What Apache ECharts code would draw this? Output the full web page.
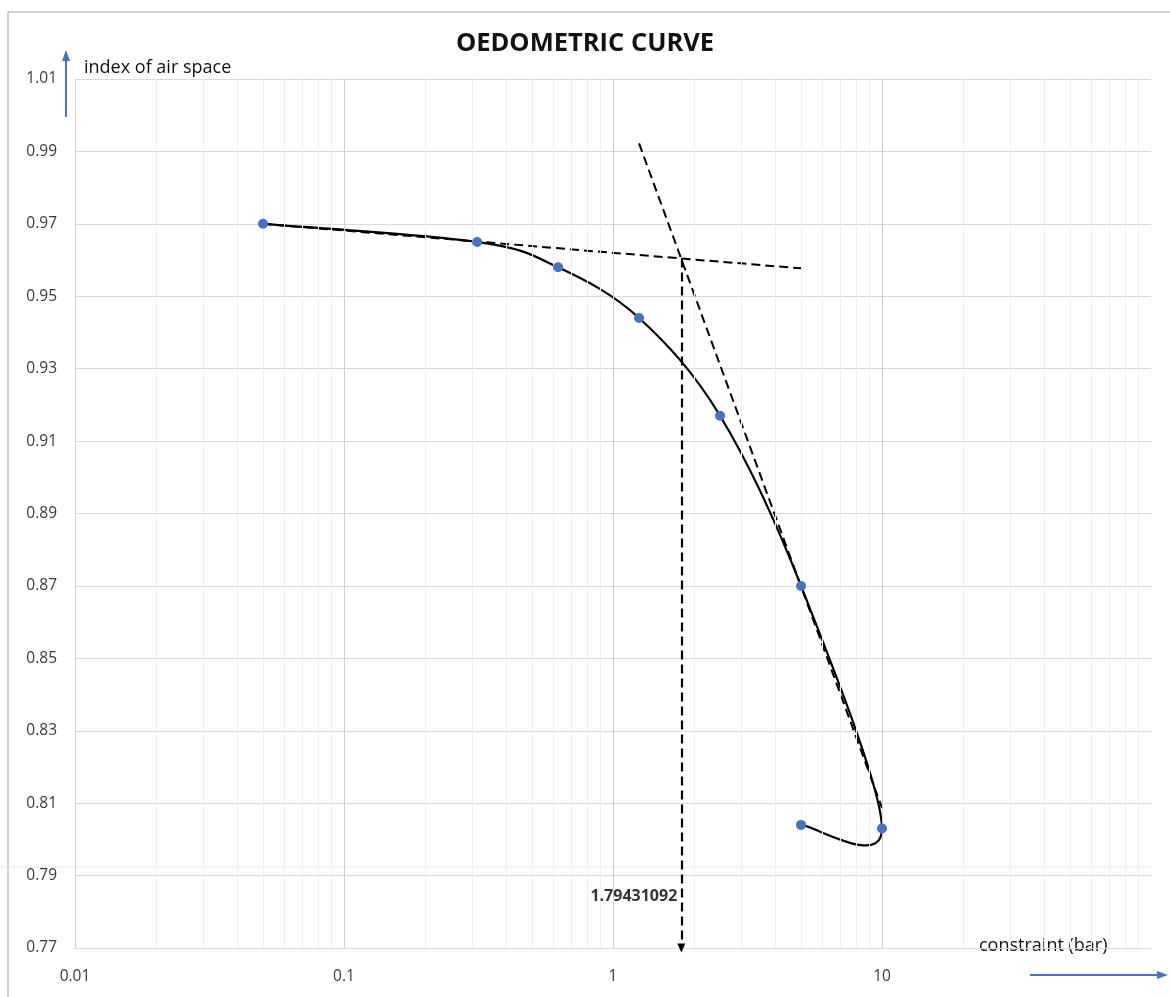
<!DOCTYPE html>
<html>
<head>
<meta charset="utf-8">
<title>Oedometric curve</title>
<script src="https://cdn.jsdelivr.net/npm/echarts@6/dist/echarts.min.js"></script>
<style>
  html, body { margin: 0; padding: 0; background: #fff; }
  #oedo_chart { width: 1170px; height: 997px; }
</style>
</head>
<body>
<div id="oedo_chart"></div>
<script>
// essai oedometrique : contrainte (bar) / indice des vides
var stress = [0.05, 0.3125, 0.625, 1.25, 2.5, 5, 10, 5];
var voidIndex = [0.970, 0.965, 0.958, 0.944, 0.917, 0.870, 0.803, 0.804];

// tangentes (pointilles)
var tangentFlat = [[0.05, 0.970], [5, 0.9577]];
var tangentSteep = [[1.25, 0.9922], [10, 0.8087]];

// pression de preconsolidation
var preconX = 1.79431092;
var preconY = 0.9604;
var preconLabelY = 0.7842;

// grille
var decades = [0.01, 0.1, 1, 10];
var minorX = [0.02, 0.03, 0.04, 0.05, 0.06, 0.07, 0.08, 0.09,
              0.2, 0.3, 0.4, 0.5, 0.6, 0.7, 0.8, 0.9,
              2, 3, 4, 5, 6, 7, 8, 9,
              20, 30, 40, 50, 60, 70, 80, 90];

var FONT = '"Open Sans", "Liberation Sans", sans-serif';
var BLUE = '#4472C4';

var chart = echarts.init(document.getElementById('oedo_chart'));

function vLines(list) {
    var out = [];
    for (var i = 0; i < list.length; i++) {
        out.push({ xAxis: list[i] });
    }
    return out;
}

var mainCurve = [];
for (var i = 0; i < stress.length; i++) {
    mainCurve.push([stress[i], voidIndex[i]]);
}

/* courbe lissee facon Excel : un segment de Bezier par paire de points */
function renderSmooth(params, api) {
    var i = params.dataIndex;
    var n = mainCurve.length;
    if (i >= n - 1) {
        return { type: 'group', children: [] };
    }
    var pt = function (k) {
        k = Math.max(0, Math.min(n - 1, k));
        return api.coord(mainCurve[k]);
    };
    var p0 = pt(i - 1), p1 = pt(i), p2 = pt(i + 1), p3 = pt(i + 2);
    return {
        type: 'bezierCurve',
        shape: {
            x1: p1[0], y1: p1[1],
            cpx1: p1[0] + (p2[0] - p0[0]) / 6,
            cpy1: p1[1] + (p2[1] - p0[1]) / 6,
            cpx2: p2[0] - (p3[0] - p1[0]) / 6,
            cpy2: p2[1] - (p3[1] - p1[1]) / 6,
            x2: p2[0], y2: p2[1]
        },
        style: { stroke: '#000', lineWidth: 2.2, fill: null, lineCap: 'round' },
        silent: true
    };
}

var option = {
    animation: false,
    backgroundColor: '#fff',
    title: {
        text: 'OEDOMETRIC CURVE',
        left: 'center',
        top: 26,
        textStyle: { fontFamily: FONT, fontSize: 25.5, fontWeight: 'bold', color: '#111' }
    },
    grid: {
        left: 75,
        right: 19,
        top: 79,
        bottom: 49,
        containLabel: false,
        outerBoundsMode: 'none'
    },
    xAxis: {
        type: 'log',
        logBase: 10,
        min: 0.01,
        max: 100,
        axisLine: { show: true, lineStyle: { color: '#d9d9d9' } },
        axisTick: { show: false },
        splitLine: { show: false },
        axisLabel: {
            margin: 21,
            fontFamily: FONT,
            fontSize: 15.5,
            color: '#3a3a3a',
            formatter: function (v) {
                if (v >= 100) return '';
                return String(Number(v.toPrecision(6)));
            }
        }
    },
    yAxis: {
        type: 'value',
        min: 0.77,
        max: 1.01,
        interval: 0.02,
        axisLine: { show: false },
        axisTick: { show: false },
        splitLine: { show: true, lineStyle: { color: '#d9d9d9', width: 1 } },
        axisLabel: {
            margin: 18,
            fontFamily: FONT,
            fontSize: 15.5,
            color: '#3a3a3a',
            formatter: function (v) { return v.toFixed(2); }
        }
    },
    series: [
        {
            // grille verticale (log)
            name: 'grid',
            type: 'line',
            data: [],
            silent: true,
            z: 1,
            markLine: {
                silent: true,
                symbol: 'none',
                animation: false,
                label: { show: false },
                lineStyle: { color: '#efefef', width: 1, type: 'solid' },
                emphasis: { disabled: true },
                data: vLines(minorX)
            }
        },
        {
            name: 'gridMajor',
            type: 'line',
            data: [],
            silent: true,
            z: 1,
            markLine: {
                silent: true,
                symbol: 'none',
                animation: false,
                label: { show: false },
                lineStyle: { color: '#d0d0d0', width: 1, type: 'solid' },
                emphasis: { disabled: true },
                data: vLines(decades)
            }
        },
        {
            name: 'tangent1',
            type: 'line',
            data: tangentFlat,
            showSymbol: false,
            symbol: 'none',
            silent: true,
            z: 3,
            lineStyle: { color: '#000', width: 2, type: [9, 5] }
        },
        {
            name: 'tangent2',
            type: 'line',
            data: tangentSteep,
            showSymbol: false,
            symbol: 'none',
            silent: true,
            z: 3,
            lineStyle: { color: '#000', width: 2, type: [9, 5] },
            markLine: {
                silent: true,
                animation: false,
                symbol: ['none', 'triangle'],
                symbolSize: [8, 9],
                label: { show: false },
                lineStyle: { color: '#000', width: 2.2, type: [9, 5] },
                emphasis: { disabled: true },
                data: [[
                    { coord: [preconX, preconY] },
                    { coord: [preconX, 0.77] }
                ]]
            }
        },
        {
            name: 'oedometerLine',
            type: 'custom',
            coordinateSystem: 'cartesian2d',
            data: mainCurve,
            encode: { x: 0, y: 1 },
            renderItem: renderSmooth,
            silent: true,
            z: 4
        },
        {
            name: 'oedometer',
            type: 'scatter',
            data: mainCurve,
            symbol: 'circle',
            symbolSize: 10,
            z: 5,
            itemStyle: { color: BLUE, opacity: 1 }
        },
        {
            name: 'preconLabel',
            type: 'scatter',
            data: [[preconX, preconLabelY]],
            symbolSize: 0,
            silent: true,
            z: 5,
            label: {
                show: true,
                position: 'left',
                distance: 4,
                fontFamily: FONT,
                fontSize: 16,
                fontWeight: 'bold',
                color: '#000',
                formatter: function (p) { return String(p.value[0]); }
            }
        }
    ],
    graphic: [
        // cadre
        { type: 'line', shape: { x1: 8, y1: 12, x2: 1170, y2: 12 }, style: { stroke: '#c4c4c4', lineWidth: 1.5 }, silent: true },
        { type: 'line', shape: { x1: 8, y1: 12, x2: 8, y2: 997 }, style: { stroke: '#c4c4c4', lineWidth: 1.5 }, silent: true },
        { type: 'line', shape: { x1: 0, y1: 867, x2: 1150, y2: 867 }, style: { stroke: '#e8e8e8', lineWidth: 1 }, silent: true, z: -1 },
        // titres des axes
        { type: 'text', left: 84, top: 59, style: { text: 'index of air space', font: '18px ' + FONT, fill: '#111' } },
        { type: 'text', left: 979, top: 937, style: { text: 'constraint (bar)', font: '18px ' + FONT, fill: '#111' } },
        // fleches bleues
        { type: 'line', shape: { x1: 66, y1: 117, x2: 66, y2: 58 }, style: { stroke: BLUE, lineWidth: 2 }, silent: true },
        { type: 'polygon', shape: { points: [[66, 50], [62, 61], [70, 61]] }, style: { fill: BLUE }, silent: true },
        { type: 'line', shape: { x1: 1030, y1: 975, x2: 1160, y2: 975 }, style: { stroke: BLUE, lineWidth: 2 }, silent: true },
        { type: 'polygon', shape: { points: [[1168, 975], [1157, 971], [1157, 979]] }, style: { fill: BLUE }, silent: true }
    ]
};

chart.setOption(option);
</script>
</body>
</html>
